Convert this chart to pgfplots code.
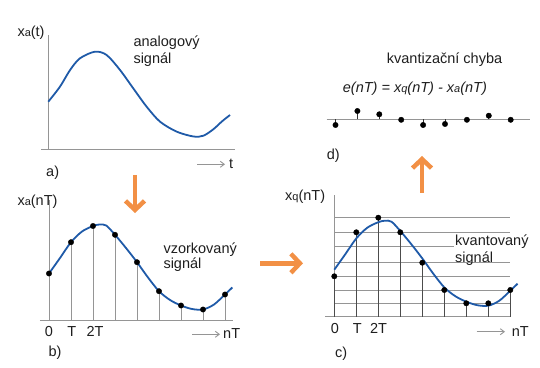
\documentclass[border=0pt]{standalone}
\usepackage{fontspec}
\setmainfont{Liberation Sans}
\usepackage{pgfplots}
\pgfplotsset{compat=1.18}
\usetikzlibrary{arrows.meta}
\definecolor{curve}{HTML}{1F5AA8}
\definecolor{arr}{HTML}{F29045}
\definecolor{axg}{HTML}{959595}
\definecolor{txt}{HTML}{1E1E1E}
\newcommand{\sm}[1]{{\fontsize{11}{12}\selectfont #1}}
\begin{document}
\fontsize{14.5}{17}\selectfont
\begin{tikzpicture}
\useasboundingbox (0,0) rectangle (540pt,367pt);
\pgfplotsset{every axis/.append style={x=22pt,y=1pt,axis lines=none,clip=false,anchor=origin}}
% ---------- a) analog signal
\begin{axis}[at={(48.3pt,217.7pt)},xmin=-0.33,xmax=8.49,ymin=0,ymax=114.3]
\draw[axg,line width=0.9pt] (axis cs:-0.33,0) -- (axis cs:8.49,0);
\draw[axg,line width=0.9pt] (axis cs:0,0) -- (axis cs:0,114.3);
\addplot[curve,line width=1.8pt,smooth] coordinates {(0,47.6) (0.53,62.6) (0.99,79.3) (1.44,91) (2.12,97.6) (2.65,94.3) (3.26,79.3) (3.86,61) (4.47,42.6) (5.08,27.6) (5.84,17.6) (6.6,12.8) (7.05,13.6) (7.5,20) (7.9,28) (8.26,34.3)};
\end{axis}
% ---------- b) sampled signal
\begin{axis}[at={(49pt,46.5pt)},xmin=-0.41,xmax=8.36,ymin=0,ymax=120.5]
\draw[axg,line width=0.9pt] (axis cs:-0.41,0) -- (axis cs:8.36,0);
\draw[axg,line width=0.9pt] (axis cs:0,0) -- (axis cs:0,120.5);
\addplot[ycomb,axg,line width=0.9pt] coordinates {(0,47) (1,78.3) (2,94.5) (3,85.7) (4,58.3) (5,29.3) (6,15) (7,11) (8,26)};
\addplot[curve,line width=1.8pt,smooth] coordinates {(0,47) (0.5,62.5) (1,78.3) (1.5,89) (2,94.5) (2.3,96) (2.6,95) (3,85.7) (3.5,72.5) (4,58.3) (4.5,43) (5,29.3) (5.5,20.5) (6,15) (6.5,11.5) (7,11) (7.5,16) (8,26) (8.33,33)};
\addplot[only marks,mark=*,mark size=2.7pt,black] coordinates {(0,47) (1,78.3) (2,94.5) (3,85.7) (4,58.3) (5,29.3) (6,15) (7,11) (8,26)};
\end{axis}
% ---------- c) quantized signal
\begin{axis}[at={(334.3pt,50.3pt)},xmin=-0.42,xmax=8.02,ymin=0,ymax=121.7]
\addplot[axg,line width=0.9pt] coordinates {(0,13.4) (8,13.4)};
\addplot[axg,line width=0.9pt] coordinates {(0,26.7) (8,26.7)};
\addplot[axg,line width=0.9pt] coordinates {(0,40.4) (8,40.4)};
\addplot[axg,line width=0.9pt] coordinates {(0,54) (8,54)};
\addplot[axg,line width=0.9pt] coordinates {(0,70) (8,70)};
\addplot[axg,line width=0.9pt] coordinates {(0,84.4) (8,84.4)};
\addplot[axg,line width=0.9pt] coordinates {(0,99) (8,99)};
\draw[axg,line width=0.9pt] (axis cs:-0.42,0) -- (axis cs:8.02,0);
\draw[axg,line width=0.9pt] (axis cs:0,0) -- (axis cs:0,121.7);
\addplot[ycomb,black!70,line width=0.9pt] coordinates {(0,40.4) (1,84.4) (2,99) (3,84.4) (4,54) (5,26.7) (6,13.4) (7,13.4) (8,26.7)};
\addplot[curve,line width=1.8pt,smooth] coordinates {(0,47) (0.5,62.5) (1,78.3) (1.5,89) (2,94.5) (2.3,96) (2.6,95) (3,85.7) (3.5,72.5) (4,58.3) (4.5,43) (5,29.3) (5.5,20.5) (6,15) (6.5,11.5) (7,11) (7.5,16) (8,26) (8.33,33)};
\addplot[only marks,mark=*,mark size=2.7pt,black] coordinates {(0,40.4) (1,84.4) (2,99) (3,84.4) (4,54) (5,26.7) (6,13.4) (7,13.4) (8,26.7)};
\end{axis}
% ---------- d) quantization error
\begin{axis}[at={(335.5pt,247.7pt)},x=21.9pt,xmin=-0.4,xmax=8.88,ymin=-10,ymax=10]
\draw[axg,line width=0.9pt] (axis cs:-0.4,0) -- (axis cs:8.88,0);
\addplot[ycomb,black!80,line width=0.8pt] coordinates {(0,-5.7) (1,8.3) (2,5) (3,-0.5) (4,-5.7) (5,-4.7) (6,-0.5) (7,3.6) (8,-0.5)};
\addplot[only marks,mark=*,mark size=2.7pt,black] coordinates {(0,-5.7) (1,8.3) (2,5) (3,-0.5) (4,-5.7) (5,-4.7) (6,-0.5) (7,3.6) (8,-0.5)};
\end{axis}
% ---------- texts
\begin{scope}[every node/.style={text=txt,inner sep=0pt}]
\node[anchor=base west] at (17.3pt,330.5pt) {x\sm{a}(t)};
\node[anchor=base west] at (133.3pt,320.3pt) {analogový};
\node[anchor=base west] at (133.3pt,303.7pt) {signál};
\node[anchor=base west] at (229pt,198.7pt) {t};
\node[anchor=base west] at (46pt,190.3pt) {a)};
\node[anchor=base west] at (17.3pt,161.7pt) {x\sm{a}(nT)};
\node[anchor=base west] at (163.3pt,113.7pt) {vzorkovaný};
\node[anchor=base west] at (163.3pt,98.7pt) {signál};
\node[anchor=base] at (49pt,30.3pt) {0};
\node[anchor=base] at (71.7pt,30.3pt) {T};
\node[anchor=base] at (95pt,30.3pt) {2T};
\node[anchor=base west] at (223pt,28.7pt) {nT};
\node[anchor=base west] at (48.3pt,10.3pt) {b)};
\node[anchor=base west] at (285pt,166.3pt) {x\sm{q}(nT)};
\node[anchor=base west,fill=white,inner sep=1pt] at (454pt,121.3pt) {kvantovaný};
\node[anchor=base west] at (455pt,104.7pt) {signál};
\node[anchor=base] at (335pt,33.7pt) {0};
\node[anchor=base] at (357.3pt,33.7pt) {T};
\node[anchor=base] at (378.5pt,33.7pt) {2T};
\node[anchor=base west] at (511.7pt,30.3pt) {nT};
\node[anchor=base west] at (335pt,9.7pt) {c)};
\node[anchor=base west] at (386.7pt,303.7pt) {kvantizační chyba};
\node[anchor=base west] at (342.7pt,274.3pt) {\itshape e(nT) = x\sm{q}(nT) - x\sm{a}(nT)};
\node[anchor=base west] at (326.7pt,207.7pt) {d)};
\end{scope}
% ---------- small gray arrows
\draw[axg,line width=0.9pt,-{Straight Barb[length=4pt,width=6pt]}] (197pt,202.7pt) -- (225pt,202.7pt);
\draw[axg,line width=0.9pt,-{Straight Barb[length=4pt,width=6pt]}] (192pt,32.7pt) -- (220pt,32.7pt);
\draw[axg,line width=0.9pt,-{Straight Barb[length=4pt,width=6pt]}] (476.7pt,35.3pt) -- (505pt,35.3pt);
% ---------- orange arrows
\draw[arr,line width=4.5pt,-{Straight Barb[length=9pt,width=19pt]}] (135pt,192pt) -- (135pt,154pt);
\draw[arr,line width=4.5pt,-{Straight Barb[length=9pt,width=19pt]}] (260pt,103.7pt) -- (303pt,103.7pt);
\draw[arr,line width=4.5pt,-{Straight Barb[length=9pt,width=19pt]}] (422pt,174pt) -- (422pt,211pt);
\end{tikzpicture}
\end{document}
